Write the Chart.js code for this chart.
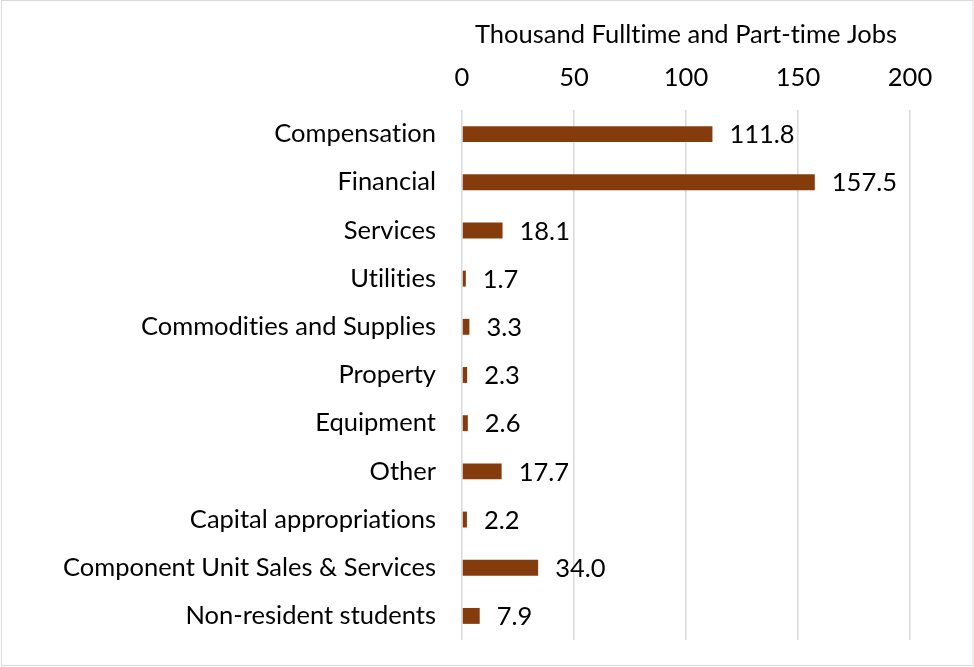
<!DOCTYPE html>
<html>
<head>
<meta charset="utf-8">
<script src="https://cdn.jsdelivr.net/npm/chart.js@4/dist/chart.umd.min.js"></script>
<style>
  html, body { margin: 0; padding: 0; background: #fff; }
  #wrap { width: 974px; height: 667px; position: relative; }
</style>
</head>
<body>
<div id="wrap"><canvas id="c" width="974" height="667"></canvas></div>
<script>
const categories = [
  'Compensation', 'Financial', 'Services', 'Utilities', 'Commodities and Supplies',
  'Property', 'Equipment', 'Other', 'Capital appropriations',
  'Component Unit Sales & Services', 'Non-resident students'
];
const jobs = [111.8, 157.5, 18.1, 1.7, 3.3, 2.3, 2.6, 17.7, 2.2, 34.0, 7.9];
const xTicks = [0, 50, 100, 150, 200];
const axisTitle = 'Thousand Fulltime and Part-time Jobs';

const FONT = 'Lato, "Open Sans", sans-serif';
const SIZE = 25.5;

// plain glyphs, no "ti"/"fi" ligatures
const plainText = {
  id: 'plainText',
  beforeDraw(chart) {
    chart.ctx.textRendering = 'optimizeSpeed';
    chart.ctx.fontVariantLigatures = 'none';
  }
};

// value labels just past the end of each bar
const valueLabels = {
  id: 'valueLabels',
  afterDatasetsDraw(chart) {
    const ctx = chart.ctx;
    const meta = chart.getDatasetMeta(0);
    ctx.save();
    ctx.font = SIZE + 'px ' + FONT;
    ctx.fillStyle = '#000';
    ctx.textAlign = 'left';
    ctx.textBaseline = 'middle';
    meta.data.forEach((bar, i) => {
      ctx.fillText(jobs[i].toFixed(1), bar.x + 17, bar.y + 1);
    });
    ctx.restore();
  }
};

// light frame round the whole chart area
const frame = {
  id: 'frame',
  afterDraw(chart) {
    const ctx = chart.ctx;
    ctx.save();
    ctx.strokeStyle = '#D9D9D9';
    ctx.lineWidth = 1;
    ctx.strokeRect(1.5, 0.5, chart.width - 2.5, chart.height - 2);
    ctx.restore();
  }
};

new Chart(document.getElementById('c'), {
  type: 'bar',
  data: {
    labels: categories,
    datasets: [{
      data: jobs,
      backgroundColor: '#843C0C',
      borderWidth: 0,
      categoryPercentage: 1,
      barPercentage: 0.33
    }]
  },
  options: {
    indexAxis: 'y',
    responsive: false,
    animation: false,
    layout: { padding: { top: 0, right: 64, bottom: 27, left: 0 } },
    plugins: { legend: { display: false }, tooltip: { enabled: false } },
    scales: {
      x: {
        position: 'top',
        min: 0, max: 200,
        afterBuildTicks(scale) { scale.ticks = xTicks.map(v => ({ value: v })); },
        afterFit(scale) { scale.height = 110; },
        grid: { color: '#D9D9D9', lineWidth: 1.5, drawTicks: false },
        border: { display: false },
        ticks: { color: '#000', font: { family: FONT, size: SIZE }, padding: 17 },
        title: {
          display: true, text: axisTitle, color: '#000',
          font: { family: FONT, size: SIZE }, padding: { top: 19, bottom: 6 }
        }
      },
      y: {
        afterFit(scale) {
          scale.width = 462;
          scale.paddingTop = 0;
          scale.paddingBottom = 0;
        },
        grid: { display: false, drawTicks: false },
        border: { display: false },
        ticks: { color: '#000', font: { family: FONT, size: SIZE }, padding: 26 }
      }
    }
  },
  plugins: [plainText, valueLabels, frame]
});
</script>
</body>
</html>
